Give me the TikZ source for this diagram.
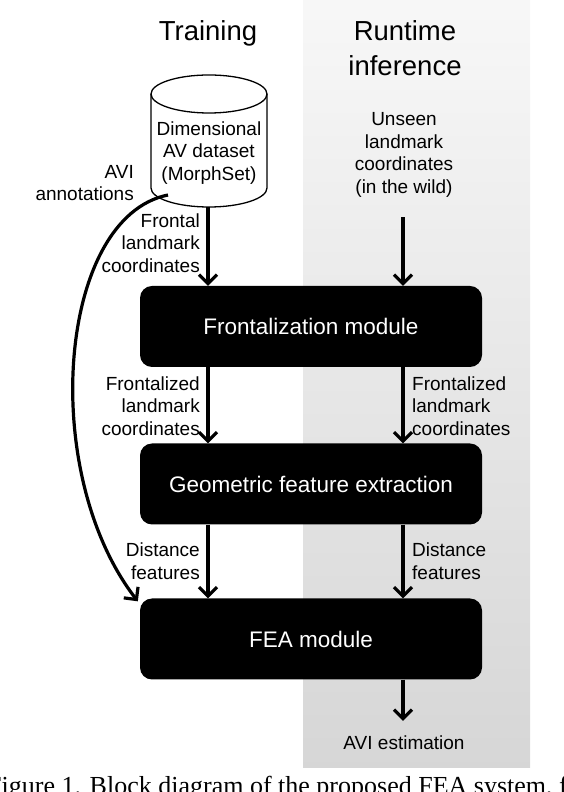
\documentclass[tikz,border=0pt]{standalone}
\usepackage{fontspec}
\setmainfont{Liberation Sans}
\newfontfamily\capfont{Liberation Serif}
\usetikzlibrary{arrows.meta,calc}

\begin{document}
\begin{tikzpicture}[x=1pt,y=1pt,
    title/.style={font=\fontsize{27.5}{35}\selectfont, align=center, inner sep=0pt},
    lbl/.style={font=\fontsize{19}{22.5}\selectfont, inner sep=0pt},
    box/.style={fill=black, text=white, rounded corners=12pt, minimum width=342pt,
      minimum height=81pt, font=\fontsize{22.5}{26}\selectfont},
    flow/.style={line width=3.2pt, -{Straight Barb[length=9pt,width=18pt,line width=3.2pt]}}]
  \useasboundingbox (0,0) rectangle (564,792);
  \clip (0,0) rectangle (564,792);
  % runtime side
  \shade[top color=black!3, bottom color=black!16] (303,24) rectangle (530,792);
  \node[title, anchor=north] (train) at (208,772) {Training};
  \node[title, anchor=north] (run) at (405,772) {Runtime\\inference};
  % database
  \draw[line width=1.3pt, fill=white] (151,698) -- (151,604)
    arc[start angle=180, end angle=360, x radius=58, y radius=19] -- (267,698);
  \draw[line width=1.3pt, fill=white] (209,698) ellipse [x radius=58, y radius=19];
  \node[lbl, align=center] (db) at (209,639) {Dimensional\\AV dataset\\(MorphSet)};
  \node[lbl, align=center] (unseen) at (404,637) {Unseen\\landmark\\coordinates\\(in the wild)};
  \node[lbl, align=right, anchor=east] (annot) at (134,609) {AVI\\annotations};
  \coordinate (dbout) at (208,585);
  \coordinate (annotstart) at (168,597);
  % modules
  \node[box] (front) at (311,465.5) {Frontalization module};
  \node[box] (geo) at (311,308) {Geometric feature extraction};
  \node[box] (fea) at (311,153) {FEA module};
  \node[lbl] (avi) at (404,49) {AVI estimation};
  % edge labels
  \node[lbl, align=right, anchor=east] (lfront) at (200,549) {Frontal\\landmark\\coordinates};
  \node[lbl, align=right, anchor=east] (lfrz) at (200,386) {Frontalized\\landmark\\coordinates};
  \node[lbl, align=left, anchor=west] (rfrz) at (412,386) {Frontalized\\landmark\\coordinates};
  \node[lbl, align=right, anchor=east] (ldist) at (200,231) {Distance\\features};
  \node[lbl, align=left, anchor=west] (rdist) at (412,231) {Distance\\features};
  % arrows
  \draw[flow] (dbout) -- (front.north -| dbout);
  \draw[flow] ([yshift=-20pt]unseen.south -| 403,0) -- (front.north -| 403,0);
  \draw[flow] (front.south -| dbout) -- (geo.north -| dbout);
  \draw[flow] (front.south -| 403,0) -- (geo.north -| 403,0);
  \draw[flow] (geo.south -| dbout) -- (fea.north -| dbout);
  \draw[flow] (geo.south -| 403,0) -- (fea.north -| 403,0);
  \draw[flow] (fea.south -| 403,0) -- ([yshift=15pt]avi.north -| 403,0);
  \draw[flow] (annotstart) .. controls (58,575) and (38,320) .. ([shift={(-2pt,-3pt)}]fea.north west);
  % caption
  \node[anchor=base west, inner sep=0pt, font=\capfont\fontsize{26}{30}\selectfont] (cap) at (-13,-2)
    {Figure 1. Block diagram of the proposed FEA system, for};
\end{tikzpicture}
\end{document}
